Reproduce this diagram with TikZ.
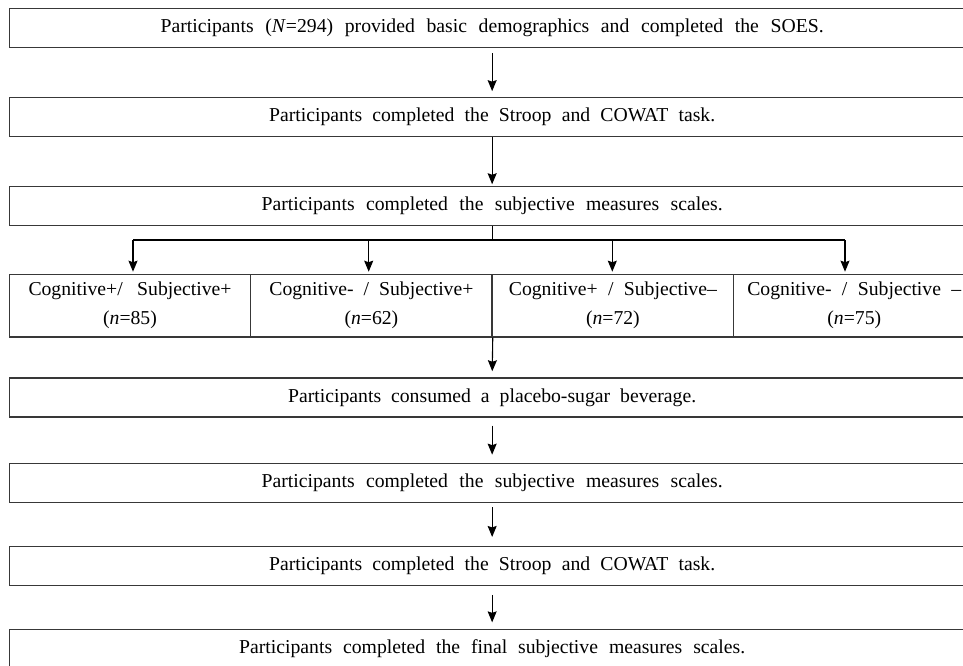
\documentclass[tikz,border=0pt]{standalone}
\usepackage{fontspec}
\setmainfont{Liberation Serif}
\usetikzlibrary{arrows.meta}

% text set to a fixed width, with the word spaces stretched to fill it
\newcommand{\spread}[2]{\makebox[#1pt][s]{#2}}

\tikzset{
  stepbox/.style={draw=black!78, line width=1.3pt, rectangle, inner sep=0pt,
    minimum width=965.7pt, minimum height=39pt, text=black,
    font=\fontsize{19.7}{29}\selectfont},
  groupbox/.style={stepbox, minimum width=241.4pt, minimum height=62.7pt, align=center},
  flow/.style={draw=black, line width=1.1pt},
  arr/.style={flow, -{Stealth[length=11pt,width=9pt,inset=1.5pt]}},
}

\begin{document}
\begin{tikzpicture}[x=1pt, y=-1pt]
\path[use as bounding box, clip] (0,0) rectangle (963,666);
\fill[white] (0,0) rectangle (963,666);

% main sequence of steps
\node[stepbox] (b1) at (492.15,28)
  {\spread{663}{Participants (\textit{N}=294) provided basic demographics and completed the SOES.}};
\node[stepbox] (b2) at (492.15,116.8)
  {\spread{446}{Participants completed the Stroop and COWAT task.}};
\node[stepbox] (b3) at (492.15,205.9)
  {\spread{461}{Participants completed the subjective measures scales.}};

% the four groups
\node[groupbox] (g1) at (130.0,305.7)
  {\spread{203}{Cognitive+/ Subjective+}\\(\textit{n}=85)};
\node[groupbox] (g2) at (371.4,305.7)
  {\spread{204}{Cognitive- / Subjective+}\\(\textit{n}=62)};
\node[groupbox] (g3) at (612.9,305.7)
  {\spread{208}{Cognitive+ / Subjective–}\\(\textit{n}=72)};
\node[groupbox] (g4) at (854.3,305.7)
  {\spread{214}{Cognitive- / Subjective –}\\(\textit{n}=75)};

\node[stepbox] (b5) at (492.15,397.4)
  {\spread{408}{Participants consumed a placebo-sugar beverage.}};
\node[stepbox] (b6) at (492.15,482.8)
  {\spread{461}{Participants completed the subjective measures scales.}};
\node[stepbox] (b7) at (492.15,566.1)
  {\spread{446}{Participants completed the Stroop and COWAT task.}};
\node[stepbox] (b8) at (492.15,649)
  {\spread{506}{Participants completed the final subjective measures scales.}};

% connectors
\draw[arr, shorten <=5pt, shorten >=5.5pt] (b1) -- (b2);
\draw[arr, shorten >=1.5pt] (b2) -- (b3);

\coordinate (fork) at (492.15,240);
\coordinate (ga) at (133,240);
\coordinate (gb) at (368.7,240);
\coordinate (gc) at (612.3,240);
\coordinate (gd) at (845,240);
\draw[flow] (b3.south) -- (fork);
\draw[flow] (ga) -- (gd);
\draw[arr, shorten >=2pt] (ga) -- (ga |- g1.north);
\draw[arr, shorten >=2pt] (gb) -- (gb |- g2.north);
\draw[arr, shorten >=2pt] (gc) -- (gc |- g3.north);
\draw[arr, shorten >=2pt] (gd) -- (gd |- g4.north);

\draw[arr, shorten >=6pt] (g2.south east) -- (b5.north);
\draw[arr, shorten <=8pt, shorten >=8pt] (b5) -- (b6);
\draw[arr, shorten <=4.5pt, shorten >=9pt] (b6) -- (b7);
\draw[arr, shorten <=8.5pt, shorten >=6.5pt] (b7) -- (b8);
\end{tikzpicture}
\end{document}
